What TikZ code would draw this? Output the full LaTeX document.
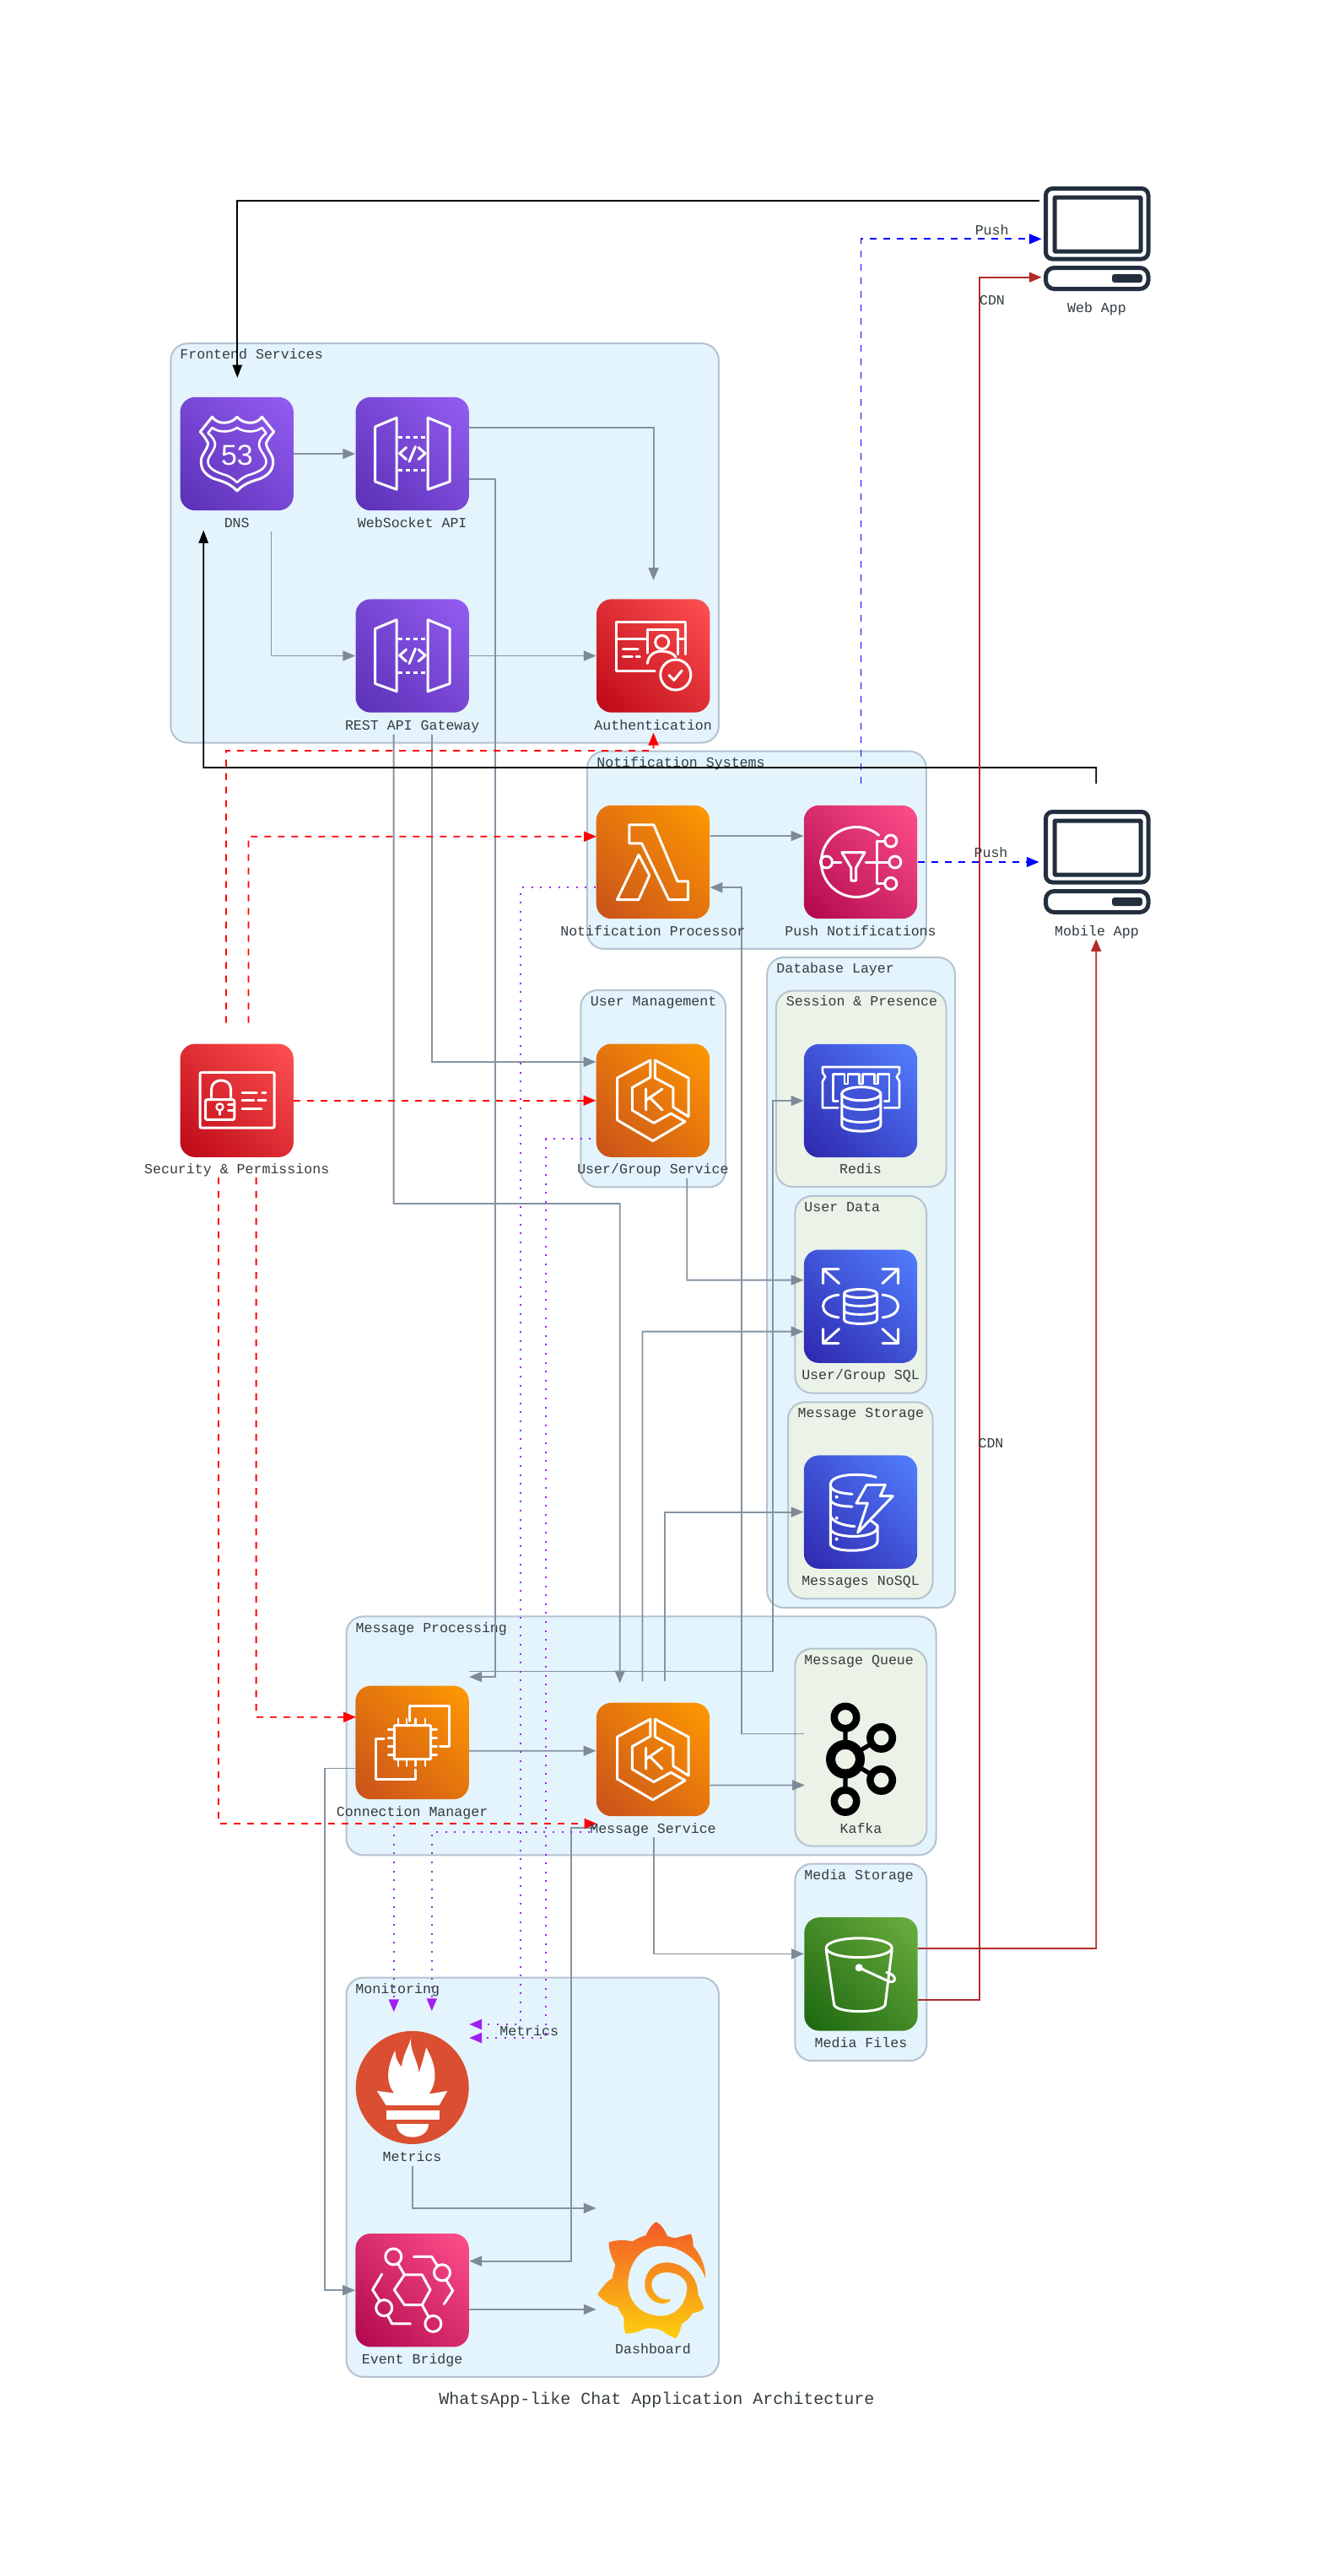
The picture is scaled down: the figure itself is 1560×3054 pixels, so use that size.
\documentclass[tikz,border=0pt]{standalone}
\usepackage{fontspec}
\setmainfont{Liberation Mono}
\usetikzlibrary{arrows.meta,calc}
\definecolor{linegrey}{HTML}{8593A1}
\definecolor{tipgrey}{HTML}{7D8B98}
\definecolor{boxedge}{HTML}{B5C2CF}
\definecolor{blueback}{HTML}{E3F4FC}
\definecolor{greenback}{HTML}{EBF3E8}
\definecolor{txt}{HTML}{333B40}
\definecolor{navy}{HTML}{232F3E}
\definecolor{metric}{HTML}{A020F0}
\definecolor{cdnred}{HTML}{B22A2A}
\definecolor{promc}{HTML}{DA4E31}
\definecolor{grafA}{HTML}{F35A2A}\definecolor{grafB}{HTML}{FDD00C}\definecolor{grafM}{HTML}{F78E1F}
\definecolor{purpA}{HTML}{5A30B5}\definecolor{purpB}{HTML}{945DF2}
\definecolor{redA}{HTML}{BD0816}\definecolor{redB}{HTML}{FF5252}
\definecolor{orA}{HTML}{C8511B}\definecolor{orB}{HTML}{FF9900}
\definecolor{bluA}{HTML}{2E27AD}\definecolor{bluB}{HTML}{527FFF}
\definecolor{pinkA}{HTML}{B0084D}\definecolor{pinkB}{HTML}{FF4F8B}
\definecolor{grnA}{HTML}{1B660F}\definecolor{grnB}{HTML}{6CAE3E}
\newcommand{\myshade}[3]{\pgfdeclareverticalshading{#1}{100bp}{color(0bp)=(#2); color(14.6bp)=(#2); color(85.4bp)=(#3); color(100bp)=(#3)}}
\myshade{purpS}{purpA}{purpB}
\myshade{redS}{redA}{redB}
\myshade{orS}{orA}{orB}
\myshade{bluS}{bluA}{bluB}
\myshade{pinkS}{pinkA}{pinkB}
\myshade{grnS}{grnA}{grnB}
\tikzset{
  lab/.style={inner sep=0pt,text=txt,font=\fontsize{8.3}{10}\selectfont,text height=7.2pt,text depth=1.5pt},
  iconbox/.style={rectangle,rounded corners=9pt,minimum width=67.2pt,minimum height=67.2pt,inner sep=0pt,
     shade,shading=#1,shading angle=-45},
  ghost/.style={rectangle,inner sep=0pt,minimum width=67.2pt,minimum height=67.2pt},
  gl/.style={draw=white,line width=1.5pt,line join=round,line cap=round},
  gbox/.style={rectangle,draw=boxedge,line width=1pt,rounded corners=10pt,inner sep=0pt},
  conn/.style={draw=linegrey,line width=0.9pt,-{Triangle[length=7.4pt,width=6pt,color=tipgrey]}},
  blk/.style={draw=black,line width=0.85pt,-{Triangle[length=7.6pt,width=5.6pt]}},
  rdash/.style={draw=red,line width=0.9pt,dash pattern=on 4pt off 4pt,-{Triangle[length=7.4pt,width=6pt]}},
  bdash/.style={draw=blue,line width=0.9pt,dash pattern=on 4pt off 4pt,-{Triangle[length=7.4pt,width=6pt]}},
  cdn/.style={draw=cdnred,line width=0.9pt,-{Triangle[length=7.4pt,width=6pt]}},
  pdot/.style={draw=metric,line width=1pt,dash pattern=on 1pt off 4.3pt,-{Triangle[length=7.4pt,width=6pt]}},
}
\newcommand{\mygroup}[8]{%
  \node[gbox,fill=#7,minimum width={(#4-#2)*0.5pt},minimum height={(#5-#3)*0.5pt}] (#1) at ({(#2+#4)/2},{(#3+#5)/2}) {};
  \node[lab,anchor=west] (#1-t) at (#8) {#6};}
\newcommand{\mycyl}[5]{% cx, top y, rx, ry, bottom y
  \path[fill=bluA!50!bluB] ({#1-#3},#2) -- ({#1-#3},#5) .. controls ({#1-#3},{#5+1.3*#4}) and ({#1+#3},{#5+1.3*#4}) .. ({#1+#3},#5) -- ({#1+#3},#2);
  \draw[gl] ({#1-#3},#2) -- ({#1-#3},#5) .. controls ({#1-#3},{#5+1.3*#4}) and ({#1+#3},{#5+1.3*#4}) .. ({#1+#3},#5) -- ({#1+#3},#2);
  \draw[gl,fill=bluA!50!bluB] (#1,#2) ellipse [x radius=#3,y radius=#4];}
\newcommand{\myband}[4]{% cx, y, rx, ry
  \draw[gl,line width=1.4pt] ({#1-#3},#2) .. controls ({#1-#3},{#2+1.3*#4}) and ({#1+#3},{#2+1.3*#4}) .. ({#1+#3},#2);}
\newcommand{\myscreen}{%
  \draw[navy,line width=2.5pt,rounded corners=4pt] (2.5,2.5) rectangle (124,86);
  \draw[navy,line width=2.5pt,rounded corners=0.5pt] (13,13) rectangle (115,77);
  \draw[navy,line width=2.5pt,rounded corners=5pt] (2.5,96.5) rectangle (124,121.5);
  \fill[navy,rounded corners=1.5pt] (81,104) rectangle (117,114);}
\newcommand{\myeks}{%
  \draw[gl] (63.8,19.5) -- (24.5,40.6) -- (24.5,90.4) -- (66.8,115.2) -- (105,92.3) -- (88.2,82.7) -- (67.9,94) -- (42.3,78.8) -- (42.3,52) -- (63.8,39.8) -- cycle;
  \draw[gl] (69.4,19.5) -- (109,40.6) -- (109,86.5) -- (90.8,75) -- (90.8,52) -- (69.4,40.6) -- cycle;
  \draw[gl] (58.7,53.6) -- (58.7,78.5) (78,53.6) -- (58.7,67) (62.8,63.5) -- (78,78.5);}
\newcommand{\myapi}{%
  \draw[gl] (23.2,35.4) -- (48.6,24.8) -- (48.6,109.7) -- (23.2,100.5) -- cycle;
  \draw[gl] (85.7,24.8) -- (111.6,35.4) -- (111.6,100.5) -- (85.7,109.7) -- cycle;
  \draw[gl,line cap=butt,dash pattern=on 2.5pt off 2pt] (50,47.7) -- (85,47.7) (50,87.2) -- (85,87.2);
  \draw[gl] (60,60) -- (52.2,67) -- (60,74) (74.5,60) -- (82.5,67) -- (74.5,74) (70.9,59) -- (63.5,76.7);}
\begin{document}
\begin{tikzpicture}[x=0.5pt,y=-0.5pt]
\useasboundingbox (0,0) rectangle (1560,3054);
\fill[white] (0,0) rectangle (1560,3054);
% groups
\mygroup{gfront}{202.3}{407.2}{851.9}{880.5}{Frontend Services}{blueback}{213,419.6}
\mygroup{gnotif}{695.9}{890.7}{1097.9}{1124.9}{Notification Systems}{blueback}{707,903.7}
\mygroup{guser}{688.3}{1173.9}{860.2}{1407.4}{User Management}{blueback}{699.5,1187}
\mygroup{gdb}{909.2}{1135}{1132}{1906}{Database Layer}{blueback}{920,1148}
\mygroup{gsess}{919.8}{1174.7}{1121.5}{1407}{Session \& Presence}{greenback}{931.4,1186.8}
\mygroup{gudata}{942.4}{1417.9}{1098}{1651.6}{User Data}{greenback}{953,1430.6}
\mygroup{gmstore}{934}{1662.3}{1105.5}{1895.4}{Message Storage}{greenback}{945.3,1675}
\mygroup{gproc}{410.5}{1916.4}{1109.5}{2199.3}{Message Processing}{blueback}{421.2,1930}
\mygroup{gqueue}{942.3}{1954.6}{1098.4}{2188.6}{Message Queue}{greenback}{953,1967.9}
\mygroup{gmedia}{942.3}{2209.6}{1098.4}{2443.2}{Media Storage}{blueback}{953,2222.9}
\mygroup{gmon}{410.5}{2344.6}{852}{2817.9}{Monitoring}{blueback}{421,2357.5}
% nodes
\node[iconbox=purpS] (dns) at (280.7,538) {};
\node[iconbox=purpS] (ws) at (488.7,538) {};
\node[iconbox=purpS] (rest) at (488.7,777.5) {};
\node[iconbox=redS] (auth) at (774.2,777.5) {};
\node[iconbox=orS] (lambda) at (773.9,1022) {};
\node[iconbox=pinkS] (sns) at (1020,1022) {};
\node[iconbox=redS] (sec) at (280.7,1304.7) {};
\node[iconbox=orS] (user) at (773.9,1304.7) {};
\node[iconbox=bluS] (redis) at (1020,1305) {};
\node[iconbox=bluS] (sql) at (1020,1548.7) {};
\node[iconbox=bluS] (ddb) at (1020,1792.6) {};
\node[iconbox=orS] (cm) at (488.6,2065.9) {};
\node[iconbox=orS] (ms) at (774,2085.9) {};
\node[ghost] (kafka) at (1020.5,2085.7) {};
\node[iconbox=grnS] (s3) at (1020.5,2340.4) {};
\node[circle,fill=none,inner sep=0pt,minimum size=67.2pt] (prom) at (488.6,2475) {};
\node[iconbox=pinkS] (eb) at (488.6,2715.2) {};
\node[ghost,minimum width=64pt,minimum height=69pt] (graf) at (772,2703.4) {};
\node[ghost,minimum width=63pt,minimum height=62pt] (web) at (1300,283) {};
\node[ghost,minimum width=63pt,minimum height=62pt] (mobile) at (1300,1021.6) {};
% connectors grey
\draw[conn] (dns.east) -- (ws.west);
\draw[conn] ([shift={(40.8,23.9)}]dns.south) |- (rest.west);
\draw[conn] ([shift={(0,-30.7)}]ws.east) -| ([shift={(0.4,-22)}]auth.north);
\draw[conn] ([shift={(0,30.3)}]ws.east) -- (586.7,568.3) -- (586.7,1988) -- ([shift={(0,-77.9)}]cm.east);
\draw[conn] (rest.east) -- (auth.west);
\draw[conn] ([shift={(-22.1,25.4)}]rest.south) -- (466.6,1426.9) -- (734.7,1426.9) -- ([shift={(-39.3,-22.9)}]ms.north);
\draw[conn] ([shift={(23,25.4)}]rest.south) -- (511.7,1258.9) -- ([shift={(0,-45.8)}]user.west);
\draw[conn] ([shift={(0,-31)}]lambda.east) -- ([shift={(0,-31)}]sns.west);
\draw[conn] ([shift={(0,-30.3)}]kafka.west) -- (878.8,2055.4) -- (878.8,1052.2) -- ([shift={(0,30.2)}]lambda.east);
\draw[conn] ([shift={(0,-84.5)}]cm.east) -- (916,1981.4) -- (916,1305) -- (redis.west);
\draw[conn] ([shift={(40.4,24.6)}]user.south) -- (814.3,1517.6) -- ([shift={(0,-31.1)}]sql.west);
\draw[conn] ([shift={(-12.5,-25)}]ms.north) -- (761.5,1578.6) -- ([shift={(0,29.9)}]sql.west);
\draw[conn] ([shift={(14,-25)}]ms.north) -- (788,1792.6) -- (ddb.west);
\draw[conn] ([shift={(0,9.8)}]cm.east) -- ([shift={(0,-10.2)}]ms.west);
\draw[conn] ([shift={(0,30.5)}]ms.east) -- ([shift={(1,30.7)}]kafka.west);
\draw[conn] ([shift={(0.6,24.7)}]ms.south) -- (774.6,2316.4) -- ([shift={(0,-24)}]s3.west);
\draw[conn] ([shift={(0,30.5)}]cm.west) -- (384.8,2096.4) -- (384.8,2715.2) -- (eb.west);
\draw[conn] ([shift={(0,81.1)}]ms.west) -- (677,2167) -- (677,2680.7) -- ([shift={(0,-34.5)}]eb.east);
\draw[conn] ([shift={(0.4,25)}]prom.south) -- (489,2617.9) -- ([shift={(-1,-85.5)}]graf.west);
\draw[conn] ([shift={(0,22.7)}]eb.east) -- ([shift={(-1,34.5)}]graf.west);
% black
\draw[blk] ([shift={(-4.3,-45.3)}]web.west) -| ([shift={(0.6,-22.5)}]dns.north);
\draw[blk] ([shift={(-0.8,-30)}]mobile.north) -- (1299.2,910) -- (241.2,910) -- ([shift={(-39.5,23)}]dns.south);
% red dashed
\draw[rdash] ([shift={(-12.8,-24.4)}]sec.north) -- (267.9,890) -- (774.5,890) -- ([shift={(0.3,23.6)}]auth.south);
\draw[rdash] ([shift={(13.7,-24.4)}]sec.north) -- (294.4,991.7) -- ([shift={(0.6,-30.3)}]lambda.west);
\draw[rdash] (sec.east) -- (user.west);
\draw[rdash] ([shift={(22.9,23.9)}]sec.south) -- (303.6,2035.7) -- ([shift={(1,-30.2)}]cm.west);
\draw[rdash] ([shift={(-22,23.9)}]sec.south) -- (258.7,2162) -- ([shift={(1,76.1)}]ms.west);
% blue dashed
\draw[bdash] ([shift={(0.5,-25.4)}]sns.north) -- (1020.5,283.3) -- ([shift={(-2,0.3)}]web.west);
\draw[bdash] (sns.east) -- ([shift={(-5,0.4)}]mobile.west);
% cdn
\draw[cdn] ([shift={(0,30.6)}]s3.east) -- (1161,2371) -- (1161,328.7) -- ([shift={(-2,45.7)}]web.west);
\draw[cdn] ([shift={(0,-30.4)}]s3.east) -- (1299.2,2310) -- ([shift={(-0.8,29.4)}]mobile.south);
% purple dotted
\draw[pdot] ([shift={(-21.8,31.1)}]cm.south) -- ([shift={(-21.8,-22.2)}]prom.north);
\draw[pdot] ([shift={(-7,86.1)}]ms.west) -- (511.8,2172) -- ([shift={(23.2,-23.3)}]prom.north);
\draw[pdot] ([shift={(-0.3,30.2)}]lambda.west) -- (617,1052.2) -- (617,2400) -- ([shift={(0,-75)}]prom.east);
\draw[pdot] ([shift={(-6,45.6)}]user.west) -- (646.5,1350.3) -- (646.5,2416) -- ([shift={(0,-59)}]prom.east);
% icon glyphs
\begin{scope}[shift={(213.5,470.5)}] % route53
  \draw[gl] (67.5,23.8) .. controls (62,31) and (46,35) .. (38,23.8) -- (23.8,41.5) .. controls (28,46) and (31,50) .. (33,54.8) .. controls (33,62) and (25,68) .. (24.8,76) .. controls (24.8,85) and (28,91.5) .. (40,97) .. controls (50,100) and (60,103) .. (67.5,111.5) .. controls (75,103) and (85,100) .. (95,97) .. controls (107,91.5) and (110.2,85) .. (110.2,76) .. controls (110,68) and (102,62) .. (102,54.8) .. controls (104,50) and (107,46) .. (111.2,41.5) -- (97,23.8) .. controls (89,35) and (73,31) .. (67.5,23.8) -- cycle;
  \draw[gl,line width=1.3pt] (67.5,36.5) .. controls (60,42) and (46,43) .. (38,36.5) -- (33,43) .. controls (38,47) and (41.5,52) .. (41.5,56.5) .. controls (41,64) and (33,70) .. (33,76.5) .. controls (33,84) and (40,88) .. (50,91.5) .. controls (57,93) and (63,97) .. (67.5,101.5) .. controls (72,97) and (78,93) .. (85,91.5) .. controls (95,88) and (102,84) .. (102,76.5) .. controls (102,70) and (94,64) .. (93.5,56.5) .. controls (93.5,52) and (97,47) .. (102,43) -- (97,36.5) .. controls (89,43) and (75,42) .. (67.5,36.5) -- cycle;
  \node[inner sep=0pt,text=white,font=\fontspec{Liberation Sans}\fontsize{17}{17}\selectfont] (dns-num) at (67.5,69) {53};
\end{scope}
\begin{scope}[shift={(421.5,470.5)}] \myapi \end{scope}
\begin{scope}[shift={(421.5,710)}] \myapi \end{scope}
\begin{scope}[shift={(707,710)}] % auth
  \draw[gl] (69.2,85) -- (23.7,85) -- (23.7,27.5) -- (105,27.5) -- (105,65.7);
  \draw[gl] (23.7,47.3) -- (60.3,47.3) (96,47.3) -- (105,47.3);
  \draw[gl] (60.3,64) -- (60.3,36.7) -- (96,36.7) -- (96,65.7);
  \draw[gl] (77.7,51.4) circle [radius=8];
  \draw[gl] (60.3,76.5) .. controls (62,65) and (70,62) .. (77.7,62) .. controls (85,62) and (92,65) .. (94,69);
  \draw[gl] (31.3,59.7) -- (49,59.7) (31.3,68.4) -- (42.4,68.4) (47,68.4) -- (51.3,68.4);
  \draw[gl] (93.8,90) circle [radius=18];
  \draw[gl] (86,90.4) -- (91.8,96.4) -- (101.3,85);
\end{scope}
\begin{scope}[shift={(707,954.8)}] % lambda
  \draw[gl] (38.8,23) -- (67.9,23) -- (96,90) -- (108.7,90) -- (108.7,111.8) -- (85.7,111.8) -- (53.6,45) -- (38.8,45) -- cycle;
  \draw[gl] (50,58.6) -- (62.8,83) -- (50,111.8) -- (24.5,111.8) -- cycle;
\end{scope}
\begin{scope}[shift={(953,955)}] % sns
  \draw[gl] (88.6,35.2) arc [start angle=-50,end angle=-310,radius=41.5];
  \draw[gl] (26.5,67) circle [radius=7];
  \draw[gl] (33,67) -- (43.8,67) (73,67) -- (101,67) (86.9,42) -- (86.9,92.4) (86.9,42) -- (95.4,42) (86.9,92.4) -- (95.4,92.4);
  \draw[gl] (102.8,42) circle [radius=7] (107.8,67) circle [radius=7] (102.8,92.4) circle [radius=7];
  \draw[gl] (44.8,55.6) -- (72,55.6) -- (61.5,74) -- (61.5,89) -- (55.9,89) -- (55.9,74) -- cycle;
\end{scope}
\begin{scope}[shift={(213.5,1237.4)}] % security
  \draw[gl,rounded corners=1pt] (23.5,34) rectangle (111.7,99.8);
  \draw[gl,rounded corners=1pt] (30,66.3) rectangle (64.3,90);
  \draw[gl] (37.2,66.3) -- (37.2,53.6) .. controls (37.2,40) and (60,40) .. (60,53.6) -- (60,66.3);
  \draw[gl,line width=1.2pt] (47,75) circle [radius=4];
  \draw[gl] (47,79) -- (47,84) (57,72.5) -- (64,72.5) (57,79.5) -- (64,79.5);
  \draw[gl] (73.5,58.2) -- (90.8,58.2) (97.4,58.2) -- (101.5,58.2) (73.5,67.4) -- (87.3,67.4) (92.4,67.4) -- (101.5,67.4) (73.5,77) -- (96.4,77);
\end{scope}
\begin{scope}[shift={(707,1237.4)}] \myeks \end{scope}
\begin{scope}[shift={(707,2018.6)}] \myeks \end{scope}
\begin{scope}[shift={(953,1237.7)}] % redis
  \draw[gl,line width=1.3pt] (40.3,75.6) -- (22,75.6) -- (22,44) -- (25.3,39) -- (22,34) -- (22,27.3) -- (113,27.3) -- (113,34) -- (109.7,39) -- (113,44) -- (113,75.6) -- (95.3,75.6);
  \draw[gl,line width=1.3pt] (40.3,68) -- (34.3,68) -- (34.3,35.6) -- (48,35.6) -- (48,47.3) -- (52,47.3) -- (52,35.6) -- (65.3,35.6) -- (65.3,47.3) -- (69.3,47.3) -- (69.3,35.6) -- (83.7,35.6) -- (83.7,47.3) -- (87.7,47.3) -- (87.7,35.6) -- (101,35.6) -- (101,68) -- (95.3,68);
  \mycyl{67.8}{59}{23}{8}{95.6}
  \myband{67.8}{70}{23}{8}
  \myband{67.8}{85}{23}{8}
\end{scope}
\begin{scope}[shift={(953,1481.5)}] % sql
  \draw[gl] (41,23) -- (22.5,23) -- (22.5,40) (22.5,23) -- (41.5,40);
  \draw[gl] (93,23) -- (111.5,23) -- (111.5,40) (111.5,23) -- (93,40);
  \draw[gl] (41,111) -- (22.5,111) -- (22.5,94) (22.5,111) -- (41.5,94);
  \draw[gl] (93,111) -- (111.5,111) -- (111.5,94) (111.5,111) -- (93,94);
  \draw[gl] (41,53.6) .. controls (28,55) and (22.5,61) .. (22.5,67) .. controls (22.5,73) and (28,79) .. (41,80.4);
  \draw[gl] (93,53.6) .. controls (106,55) and (111.5,61) .. (111.5,67) .. controls (111.5,73) and (106,79) .. (93,80.4);
  \mycyl{67}{52}{19.5}{5}{83}
  \myband{67}{62}{19.5}{5}
  \myband{67}{72}{19.5}{5}
\end{scope}
\begin{scope}[shift={(953,1725.3)}] % ddb
  \draw[gl] (85.3,26) .. controls (70,21) and (31.3,21) .. (31.3,35) .. controls (31.3,42) and (42,45) .. (57,46);
  \draw[gl] (31.3,35) -- (31.3,105) .. controls (31.3,116) and (87,116) .. (87,102) -- (87,83.4) -- (80,78);
  \draw[gl] (31.3,52) .. controls (31.3,58) and (44,61) .. (57,60.7);
  \draw[gl] (31.3,70) .. controls (31.3,78) and (44,83) .. (60,84.4);
  \draw[gl] (31.3,86.7) .. controls (31.3,99) and (87,100) .. (87,85);
  \fill[white] (38.7,49.4) circle [radius=2] (38.7,74.4) circle [radius=2] (38.7,99.4) circle [radius=2];
  \draw[gl] (74.3,35) -- (96.3,35) -- (90.3,48.4) -- (105.3,48.4) -- (63.7,91.7) -- (75.3,56.7) -- (62,56.7) -- cycle;
\end{scope}
\begin{scope}[shift={(421.7,1998.6)}] % ec2
  \draw[gl] (64,42) -- (64,23.6) -- (111,23.6) -- (111,72) -- (100,72);
  \draw[gl] (33.4,62.9) -- (23.3,62.9) -- (23.3,111) -- (70.8,111) -- (70.8,99.6);
  \draw[gl,rounded corners=0.5pt] (45.6,47) rectangle (89,87);
  \draw[gl,line width=1.2pt] (50.4,39) -- (50.4,47) (60,39) -- (60,47) (70.8,39) -- (70.8,47) (82,39) -- (82,47)
     (50.4,87) -- (50.4,95) (60,87) -- (60,95) (70.8,87) -- (70.8,95) (82,87) -- (82,95)
     (38.3,52) -- (45.6,52) (38.3,62) -- (45.6,62) (38.3,72) -- (45.6,72) (38.3,82) -- (45.6,82)
     (89,52) -- (96,52) (89,62) -- (96,62) (89,72) -- (96,72) (89,82) -- (96,82);
\end{scope}
\begin{scope}[shift={(953.7,2273.2)}] % s3
  \draw[gl] (64.5,36) ellipse [x radius=39,y radius=11.4];
  \draw[gl] (25.5,38) -- (34.9,103.6) .. controls (38,114) and (92,114) .. (95.5,103.6) -- (103.5,38);
  \draw[gl,fill=white] (64.5,59.6) circle [radius=3];
  \draw[gl] (64.5,59.6) -- (98,75) .. controls (108,80) and (110,70) .. (101,66.5) -- (97,65);
\end{scope}
\begin{scope}[shift={(421.7,2647.9)}] % eventbridge
  \draw[gl] (57.7,48.9) -- (78.6,48.9) -- (88.3,66.8) -- (78.6,84.6) -- (57.7,84.6) -- (45.6,66.8) -- cycle;
  \draw[gl] (44.6,27.5) circle [radius=9.5] (102.3,46.4) circle [radius=9.5] (33.5,88.2) circle [radius=9.5] (91.7,107) circle [radius=9.5];
  \draw[gl] (50.4,36.4) -- (57.7,48.9) (68.8,27.5) -- (90,27.5) -- (96.5,38) (107,55) -- (115,67.9) -- (104.6,83.6)
     (31,48.2) -- (19.9,66.8) -- (28.7,80.4) (38,97.5) -- (42.9,107) -- (64.8,107) (78.6,84.6) -- (86.7,99.6);
\end{scope}
% prometheus
\begin{scope}[shift={(421.7,2407.9)}]
  \fill[promc] (67,67) circle [radius=67];
  \fill[white] (45.6,73.6) .. controls (38,65) and (34,48) .. (46.6,23) .. controls (47,32) and (50,38) .. (54.3,42.5) .. controls (56,28) and (62,20) .. (65.4,8.6) .. controls (64,25) and (74,35) .. (74.7,49.6) .. controls (78,40) and (81,30) .. (83.4,19.3) .. controls (92,35) and (100,55) .. (86.8,74.6) -- (108.6,71) -- (99,87.9) -- (35.8,87.9) -- (25.2,71) -- cycle;
  \fill[white] (35.8,93.6) rectangle (99,105);
  \fill[white] (48.2,109.6) -- (85.8,109.6) .. controls (85.8,131) and (48.2,131) .. (48.2,109.6) -- cycle;
\end{scope}
% kafka
\begin{scope}[line width=2.6pt,draw=black]
  \draw (1002,2036) -- (1002,2135.4) (1002,2085.7) -- (1044.6,2060.4) (1002,2085.7) -- (1044.6,2110.4);
  \fill[greenback] (1002,2036) circle [radius=9] (1002,2085.7) circle [radius=12] (1044.6,2060.4) circle [radius=9] (1044.6,2110.4) circle [radius=9] (1002,2135.4) circle [radius=9];
  \fill[black,even odd rule] (1002,2036) circle [radius=17.5] (1002,2036) circle [radius=9]
    (1002,2085.7) circle [radius=23] (1002,2085.7) circle [radius=12]
    (1044.6,2060.4) circle [radius=17.5] (1044.6,2060.4) circle [radius=9]
    (1044.6,2110.4) circle [radius=17.5] (1044.6,2110.4) circle [radius=9]
    (1002,2135.4) circle [radius=17.5] (1002,2135.4) circle [radius=9];
\end{scope}
% grafana
\begin{scope}[shift={(695,2620)},xscale=0.3333,yscale=0.3333]
  \shade[top color=grafA,middle color=grafM,bottom color=grafB]
   (248,42) .. controls (265,50) and (280,72) .. (287,92)
   .. controls (305,100) and (318,102) .. (333,95)
   .. controls (345,92) and (360,88) .. (372,85)
   .. controls (378,100) and (380,115) .. (380,130)
   .. controls (400,150) and (425,195) .. (423,243)
   .. controls (405,185) and (340,128) .. (265,128)
   .. controls (190,128) and (148,195) .. (148,265)
   .. controls (148,325) and (195,377) .. (265,377)
   .. controls (325,377) and (358,325) .. (358,275)
   .. controls (358,245) and (325,222) .. (285,222)
   .. controls (255,222) and (232,240) .. (232,265)
   .. controls (232,295) and (260,325) .. (298,317)
   .. controls (300,322) and (298,325) .. (292,328)
   .. controls (255,345) and (208,315) .. (208,265)
   .. controls (208,220) and (240,187) .. (285,187)
   .. controls (345,187) and (397,235) .. (397,300)
   .. controls (405,315) and (415,335) .. (418,350)
   .. controls (405,362) and (390,365) .. (378,367)
   .. controls (368,385) and (355,395) .. (340,405)
   .. controls (335,425) and (328,445) .. (318,457)
   .. controls (300,450) and (282,440) .. (270,430)
   .. controls (250,420) and (228,420) .. (210,422)
   .. controls (190,432) and (165,440) .. (140,440)
   .. controls (133,422) and (131,405) .. (135,385)
   .. controls (125,372) and (118,360) .. (112,345)
   .. controls (85,340) and (60,325) .. (40,300)
   .. controls (55,275) and (72,255) .. (92,243)
   .. controls (95,225) and (100,210) .. (103,195)
   .. controls (90,170) and (80,145) .. (80,115)
   .. controls (105,107) and (135,105) .. (163,112)
   .. controls (178,103) and (195,95) .. (212,90)
   .. controls (220,70) and (232,52) .. (248,42) -- cycle;
\end{scope}
% monitors
\begin{scope}[shift={(1237,221)}] \myscreen \end{scope}
\begin{scope}[shift={(1237,960)}] \myscreen \end{scope}
% labels
\node[lab] (dns-t) at (280.7,619.7) {DNS};
\node[lab] (ws-t) at (488.7,619.7) {WebSocket API};
\node[lab] (rest-t) at (488.7,860) {REST API Gateway};
\node[lab] (auth-t) at (774.2,860) {Authentication};
\node[lab] (web-t) at (1300,364.7) {Web App};
\node[lab] (mobile-t) at (1300,1103.5) {Mobile App};
\node[lab] (lambda-t) at (773.9,1103.9) {Notification Processor};
\node[lab] (sns-t) at (1020,1103.5) {Push Notifications};
\node[lab] (sec-t) at (280.7,1386) {Security \& Permissions};
\node[lab] (user-t) at (773.9,1386) {User/Group Service};
\node[lab] (redis-t) at (1020,1385.7) {Redis};
\node[lab] (sql-t) at (1020,1629.5) {User/Group SQL};
\node[lab] (ddb-t) at (1020,1873.3) {Messages NoSQL};
\node[lab] (cm-t) at (488.6,2147.5) {Connection Manager};
\node[lab] (ms-t) at (774,2167.5) {Message Service};
\node[lab] (kafka-t) at (1020.5,2167.5) {Kafka};
\node[lab] (s3-t) at (1020.5,2421.8) {Media Files};
\node[lab] (prom-t) at (488.6,2556.8) {Metrics};
\node[lab] (eb-t) at (488.6,2796.8) {Event Bridge};
\node[lab] (graf-t) at (774,2784.6) {Dashboard};
\node[lab] (push1) at (1175.7,273) {Push};
\node[lab] (push2) at (1174.5,1011) {Push};
\node[lab] (cdn1) at (1176,355.7) {CDN};
\node[lab] (cdn2) at (1174.5,1711) {CDN};
\node[lab] (metr) at (627.2,2407.9) {Metrics};
\node[lab,font=\fontsize{10}{12}\selectfont,text height=8.4pt,text depth=1.5pt] (title) at (778.4,2843.6) {WhatsApp-like Chat Application Architecture};
\end{tikzpicture}
\end{document}
